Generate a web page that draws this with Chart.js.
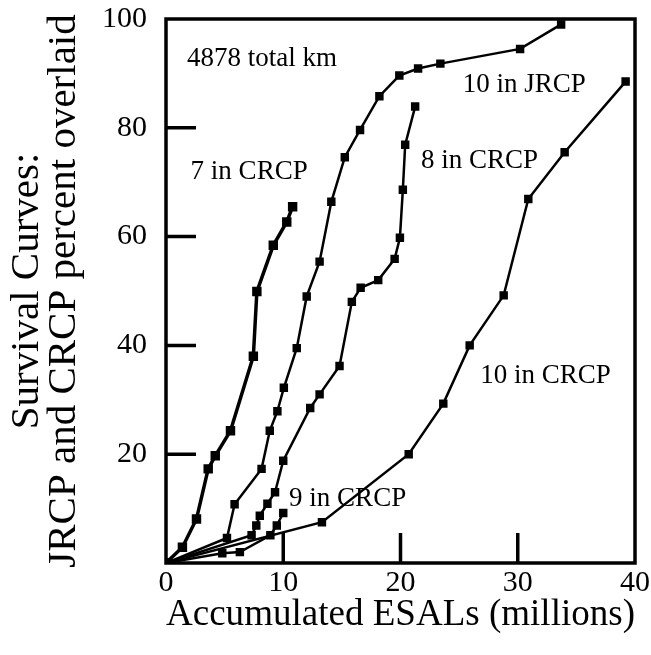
<!DOCTYPE html>
<html>
<head>
<meta charset="utf-8">
<script src="https://cdn.jsdelivr.net/npm/chart.js@4.4.1/dist/chart.umd.min.js"></script>
<style>
  html, body { margin: 0; padding: 0; background: #fff; }
  #wrap { width: 651px; height: 655px; }
</style>
</head>
<body>
<div id="wrap"><canvas id="survival" width="651" height="655"></canvas></div>
<script>
// ---- data (accumulated ESALs in millions vs percent overlaid)
const crcp7X  = [0, 1.4, 2.6, 3.6, 4.2, 5.5, 7.45, 7.75, 9.15, 10.3, 10.8];
const crcp7Y  = [0, 2.9, 8.1, 17.3, 19.7, 24.3, 38.0, 49.9, 58.4, 62.7, 65.5];

const jrcp10X = [0, 5.2, 5.85, 8.15, 8.85, 9.5, 10.05, 11.15, 12.0, 13.1, 14.1, 15.25, 16.55, 18.2, 19.9, 21.5, 23.4, 30.2, 33.7];
const jrcp10Y = [0, 4.6, 10.8, 17.3, 24.3, 27.9, 32.2, 39.5, 49.0, 55.4, 66.4, 74.6, 79.6, 85.8, 89.6, 90.9, 91.8, 94.5, 99.0];

const crcp8X  = [0, 7.3, 7.7, 8.0, 8.65, 9.3, 10.0, 12.3, 13.1, 14.8, 15.85, 16.6, 18.1, 19.5, 19.95, 20.2, 20.4, 21.25];
const crcp8Y  = [0, 5.1, 6.9, 8.7, 10.9, 13.0, 18.8, 28.5, 31.0, 36.2, 48.0, 50.6, 52.0, 55.9, 59.8, 68.6, 76.9, 83.9];

const crcp9X  = [0, 4.8, 6.3, 8.9, 9.45, 10.0];
const crcp9Y  = [0, 1.8, 2.0, 5.1, 6.9, 9.2];

const crcp10X = [0, 13.3, 20.7, 23.65, 25.9, 28.8, 30.9, 34.0, 39.2];
const crcp10Y = [0, 7.5, 20.0, 29.3, 40.0, 49.2, 66.9, 75.5, 88.5];

const xTicks = [0, 10, 20, 30, 40];
const yTicks = [20, 40, 60, 80, 100];

const notes = [
  { text: '4878 total km', x: 1.8,  y: 92.6 },
  { text: '7 in CRCP',     x: 2.1,  y: 71.9 },
  { text: '10 in JRCP',    x: 25.3, y: 87.8 },
  { text: '8 in CRCP',     x: 21.75, y: 73.9 },
  { text: '10 in CRCP',    x: 26.8, y: 34.4 },
  { text: '9 in CRCP',     x: 10.5, y: 11.8 },
];

const serif = '"Liberation Serif", "Times New Roman", serif';

function toPoints(xs, ys) {
  return xs.map((v, i) => ({ x: v, y: ys[i] }));
}

function curve(label, xs, ys, width) {
  return {
    label: label,
    data: toPoints(xs, ys),
    borderColor: '#000',
    backgroundColor: '#000',
    borderWidth: width,
    pointStyle: 'rect',
    pointRadius: 4.2,
    pointHoverRadius: 4.2,
    tension: 0,
    showLine: true,
  };
}

// ---- frame, inward ticks and in-plot notes
const framePlugin = {
  id: 'frame',
  beforeDatasetsDraw(chart) {
    const { ctx, scales: { x, y } } = chart;
    ctx.save();
    ctx.fillStyle = '#000';
    ctx.font = '27px ' + serif;
    ctx.textAlign = 'left';
    ctx.textBaseline = 'middle';
    notes.forEach(n => ctx.fillText(n.text, x.getPixelForValue(n.x), y.getPixelForValue(n.y)));
    ctx.restore();
  },
  afterDatasetsDraw(chart) {
    const { ctx, chartArea: a, scales: { x, y } } = chart;
    ctx.save();
    ctx.strokeStyle = '#000';
    ctx.lineWidth = 3.5;
    ctx.strokeRect(a.left, a.top, a.right - a.left, a.bottom - a.top);
    ctx.beginPath();
    yTicks.forEach(v => {
      if (v > 0 && v < 100) {
        const py = y.getPixelForValue(v);
        ctx.moveTo(a.left, py);
        ctx.lineTo(a.left + 30, py);
      }
    });
    xTicks.forEach(v => {
      if (v > 0 && v < 40) {
        const px = x.getPixelForValue(v);
        ctx.moveTo(px, a.bottom);
        ctx.lineTo(px, a.bottom - 30);
      }
    });
    ctx.stroke();
    ctx.restore();
  }
};

const ctx = document.getElementById('survival').getContext('2d');
new Chart(ctx, {
  type: 'scatter',
  data: {
    datasets: [
      curve('7 in CRCP', crcp7X, crcp7Y, 3.5),
      curve('10 in JRCP', jrcp10X, jrcp10Y, 2.5),
      curve('8 in CRCP', crcp8X, crcp8Y, 2.5),
      curve('9 in CRCP', crcp9X, crcp9Y, 2.5),
      curve('10 in CRCP', crcp10X, crcp10Y, 2.5),
    ]
  },
  options: {
    responsive: false,
    animation: false,
    devicePixelRatio: 1,
    layout: { padding: { top: 19, right: 16, left: 0, bottom: 0 } },
    plugins: { legend: { display: false }, tooltip: { enabled: false } },
    scales: {
      x: {
        type: 'linear', min: 0, max: 40,
        grid: { display: false, drawTicks: false },
        border: { display: false },
        afterBuildTicks: s => { s.ticks = xTicks.map(v => ({ value: v })); },
        afterFit: s => { s.height = 92; s.paddingLeft = 0; s.paddingRight = 0; },
        ticks: { color: '#000', padding: 2, font: { family: serif, size: 30, lineHeight: 1.2 } },
        title: {
          display: true,
          text: 'Accumulated ESALs (millions)',
          color: '#000',
          font: { family: serif, size: 38, lineHeight: 1.0 },
          padding: { top: 0, bottom: 21 }
        }
      },
      y: {
        type: 'linear', min: 0, max: 100,
        grid: { display: false, drawTicks: false },
        border: { display: false },
        afterBuildTicks: s => { s.ticks = yTicks.map(v => ({ value: v })); },
        afterFit: s => { s.width = 166; s.paddingTop = 0; s.paddingBottom = 0; },
        ticks: { color: '#000', padding: 19, font: { family: serif, size: 30, lineHeight: 1.0 } },
        title: {
          display: true,
          text: ['Survival Curves:', 'JRCP and CRCP percent overlaid'],
          color: '#000',
          font: { family: serif, size: 41, lineHeight: 0.9 },
          padding: { top: 8.5, bottom: 0 }
        }
      }
    }
  },
  plugins: [framePlugin]
});
</script>
</body>
</html>
